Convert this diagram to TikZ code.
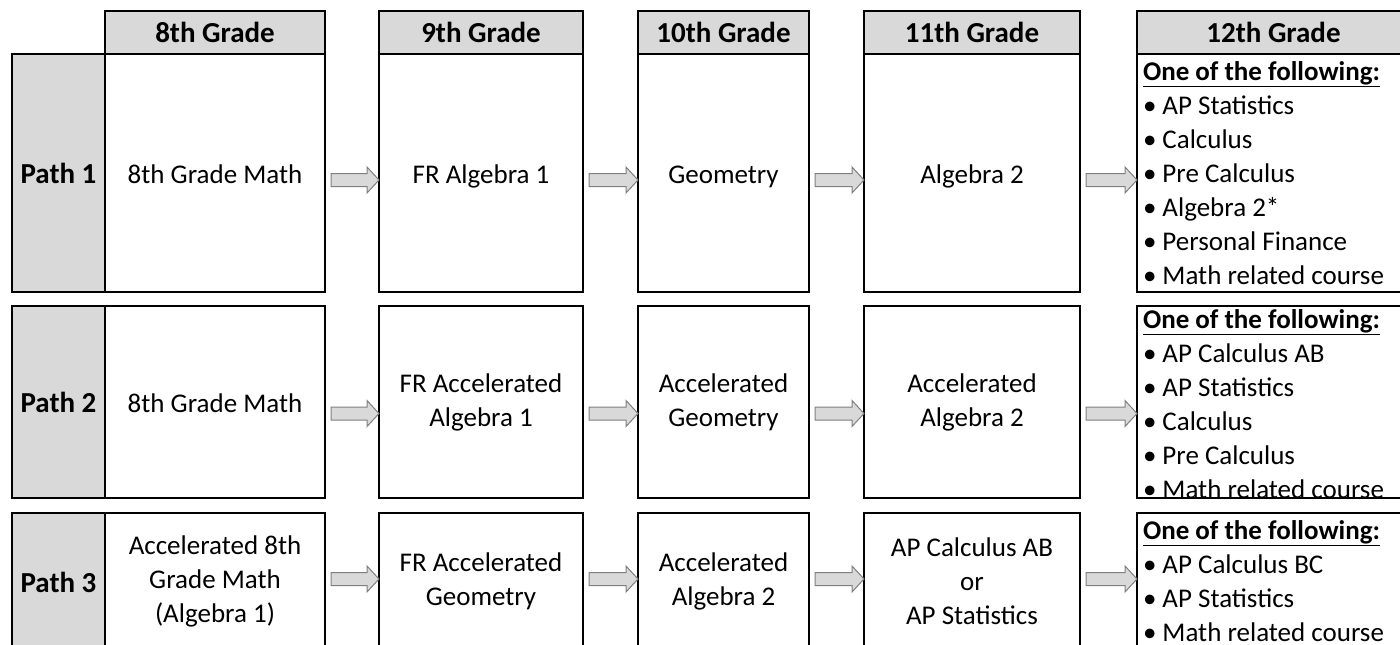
\documentclass[tikz,border=0pt]{standalone}
\usepackage{fontspec}
\setmainfont{Carlito}
\usetikzlibrary{calc}
\definecolor{hdrgray}{HTML}{D9D9D9}
\definecolor{arrline}{HTML}{808080}
\newcommand\cellnode[7]{%
  \node[#6,minimum width={#4-#2},minimum height={#5-#3}] (#1) at ({(#2+#4)/2},{(#3+#5)/2}) {#7};}
\newcommand\blockarr[3]{%
  \draw[barr] ($(#1.east)+(6,#3-6.5)$) -- ($(#2.west)+(-12,#3-6.5)$) -- ($(#2.west)+(-12,#3-13)$)
    -- ($(#2.west)+(0,#3)$) -- ($(#2.west)+(-12,#3+13)$) -- ($(#2.west)+(-12,#3+6.5)$)
    -- ($(#1.east)+(6,#3+6.5)$) -- cycle;}
\newcommand\itm{•\hspace{6pt}}
\begin{document}
\begin{tikzpicture}[x=1pt,y=-1pt,
  txt/.style={font=\fontsize{27}{34}\selectfont},
  cell/.style={draw=black,line width=2.6pt,inner sep=0pt,outer sep=0pt,fill=white,align=center,txt},
  one/.style={text height=21pt,text depth=0pt},
  hcell/.style={cell,fill=hdrgray,font=\fontsize{29}{34}\selectfont\bfseries},
  pcell/.style={cell,one,fill=hdrgray,font=\fontsize{29}{34}\selectfont\bfseries},
  list/.style={inner sep=0pt,outer sep=0pt,align=left,anchor=north west,txt},
  barr/.style={draw=arrline,fill=hdrgray,line width=1pt,line join=miter}]
\useasboundingbox (0,0) rectangle (1400,645);
\clip (0,0) rectangle (1400,645);
\fill[white] (0,0) rectangle (1400,645);
% headers
\cellnode{h8}{105}{11}{325}{54}{hcell}{8th Grade}
\cellnode{h9}{379}{11}{583}{54}{hcell}{9th Grade}
\cellnode{h10}{638}{11}{809}{54}{hcell}{10th Grade}
\cellnode{h11}{864}{11}{1080}{54}{hcell}{11th Grade}
\cellnode{h12}{1137}{11}{1410}{54}{hcell}{12th Grade}
% path 1
\cellnode{p1}{12}{54}{105}{292}{pcell}{Path 1}
\cellnode{a8}{105}{54}{325}{292}{cell,one}{8th Grade Math}
\cellnode{a9}{379}{54}{583}{292}{cell,one}{FR Algebra 1}
\cellnode{a10}{638}{54}{809}{292}{cell,one}{Geometry}
\cellnode{a11}{864}{54}{1080}{292}{cell,one}{Algebra 2}
\cellnode{a12}{1137}{54}{1410}{292}{cell}{}
% path 2
\cellnode{p2}{12}{306}{105}{498}{pcell}{Path 2}
\cellnode{b8}{105}{306}{325}{498}{cell,one}{8th Grade Math}
\cellnode{b9}{379}{306}{583}{498}{cell}{FR Accelerated\\Algebra 1}
\cellnode{b10}{638}{306}{809}{498}{cell}{Accelerated\\Geometry}
\cellnode{b11}{864}{306}{1080}{498}{cell}{Accelerated\\Algebra 2}
\cellnode{b12}{1137}{306}{1410}{498}{cell}{}
% path 3
\cellnode{p3}{12}{513}{105}{650}{pcell}{Path 3}
\cellnode{c8}{105}{513}{325}{650}{cell}{Accelerated 8th\\Grade Math\\(Algebra 1)}
\cellnode{c9}{379}{513}{583}{650}{cell}{FR Accelerated\\Geometry}
\cellnode{c10}{638}{513}{809}{650}{cell}{Accelerated\\Algebra 2}
\cellnode{c11}{864}{513}{1080}{650}{cell}{AP Calculus AB\\or\\AP Statistics}
\cellnode{c12}{1137}{513}{1410}{650}{cell}{}
% 12th grade lists
\node[list] (a12t) at ($(a12.north west)+(6,7.5)$) {\underline{\textbf{One of the following:}}\\
  \itm AP Statistics\\ \itm Calculus\\ \itm Pre Calculus\\ \itm Algebra 2*\\
  \itm Personal Finance\\ \itm Math related course};
\node[list] (b12t) at ($(b12.north west)+(6,3.5)$) {\underline{\textbf{One of the following:}}\\
  \itm AP Calculus AB\\ \itm AP Statistics\\ \itm Calculus\\ \itm Pre Calculus\\
  \itm Math related course};
\node[list] (c12t) at ($(c12.north west)+(6,7.5)$) {\underline{\textbf{One of the following:}}\\
  \itm AP Calculus BC\\ \itm AP Statistics\\ \itm Math related course};
% arrows
\blockarr{a8}{a9}{7}
\blockarr{a9}{a10}{7}
\blockarr{a10}{a11}{7}
\blockarr{a11}{a12}{7}
\blockarr{b8}{b9}{11.5}
\blockarr{b9}{b10}{11.5}
\blockarr{b10}{b11}{11.5}
\blockarr{b11}{b12}{11.5}
\blockarr{c8}{c9}{-2.5}
\blockarr{c9}{c10}{-2.5}
\blockarr{c10}{c11}{-2.5}
\blockarr{c11}{c12}{-2.5}
\end{tikzpicture}
\end{document}
